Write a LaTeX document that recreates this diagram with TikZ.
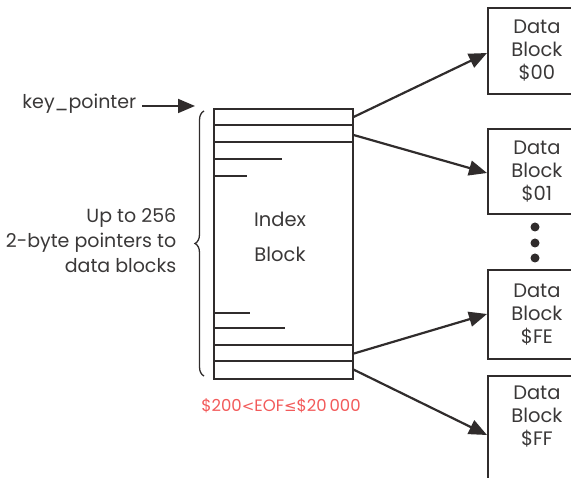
\documentclass[tikz,border=0pt]{standalone}
\usepackage{fontspec}
\setmainfont{Poppins}
\newfontfamily\symfont{DejaVu Sans}
\usetikzlibrary{arrows.meta,decorations.pathreplacing}
\definecolor{ink}{HTML}{302C2C}
\definecolor{txt}{HTML}{3A3838}
\definecolor{redtxt}{HTML}{F25A5A}
\begin{document}
\begin{tikzpicture}[x=1pt,y=-1pt,
  line width=1.5pt, draw=ink,
  lbl/.style={text=txt,font=\fontsize{19}{25}\selectfont,inner sep=0pt},
  dblock/.style={draw=ink,line width=1.8pt,minimum width=98pt,anchor=north west,
     text=txt,font=\fontsize{19.5}{23}\selectfont,align=center,inner sep=0pt},
  arr/.style={ink,line width=2.2pt,-{Triangle[length=18pt,width=15pt]}},
  row/.style={ink,line width=1.6pt}]
\useasboundingbox (0,0) rectangle (571,478);
% index block
\node[draw=ink,line width=1.6pt,minimum width=139pt,minimum height=270pt,anchor=north west,inner sep=0pt] (ib) at (213,108) {};
\draw[row] (213,125) -- (352,125);
\draw[row] (213,142) -- (352,142);
\draw[row] (213,159) -- (282,159);
\draw[row] (213,176) -- (247,176);
\draw[row] (213,313) -- (250,313);
\draw[row] (213,328) -- (285,328);
\draw[row] (213,345) -- (352,345);
\draw[row] (213,361) -- (352,361);
\node[lbl,font=\fontsize{19.5}{25}\selectfont] (ibt1) at (280,219) {Index};
\node[lbl,font=\fontsize{19.5}{25}\selectfont] (ibt2) at (280,254) {Block};
\node[text=redtxt,font=\fontsize{16.5}{20}\selectfont,inner sep=0pt] (eof) at (281,406) {\$200{\symfont\fontsize{15}{18}\selectfont <}EOF{\symfont\fontsize{15}{18}\selectfont ≤}\$20\,000};
% data blocks
\node[dblock,minimum height=86pt] (d0) at (487,7) {Data\\Block\\\$00};
\node[dblock,minimum height=85pt] (d1) at (487,128) {Data\\Block\\\$01};
\node[dblock,minimum height=89pt] (d2) at (487,269) {Data\\Block\\\$FE};
\node[dblock,minimum height=124pt] (d3) at (487,375) {Data\\Block\\\$FF\\[22pt]};
% dots
\foreach \yy/\nm in {227/a,243/b,258/c}
  \fill[ink] (535,\yy) circle (4.5pt) coordinate (dot\nm);
% arrows
\draw[arr] ([yshift=-9pt]ib.north east) -- ([yshift=-46pt]d0.north west);
\draw[arr] ([yshift=-27pt]ib.north east) -- ([yshift=-45pt]d1.north west);
\draw[arr] ([yshift=26pt]ib.south east) -- ([yshift=-45pt]d2.north west);
\draw[arr] ([yshift=10pt]ib.south east) -- ([yshift=-60pt]d3.north west);
% key pointer
\node[lbl,anchor=east] (kp) at (137,104) {key\_pointer};
\coordinate (kptip) at (195,106);
\draw[ink,line width=1.8pt,-{Triangle[length=17pt,width=14pt]}] (kp.east) ++(5,2) -- (kptip);
% brace
\draw[ink,line width=1.3pt,decorate,decoration={brace,amplitude=9pt}] (204,376) -- (204,111) coordinate (bt);
\node[lbl,align=right,anchor=east] (upto) at (177,241) {Up to 256\\2-byte pointers to\\data blocks};
\end{tikzpicture}
\end{document}
